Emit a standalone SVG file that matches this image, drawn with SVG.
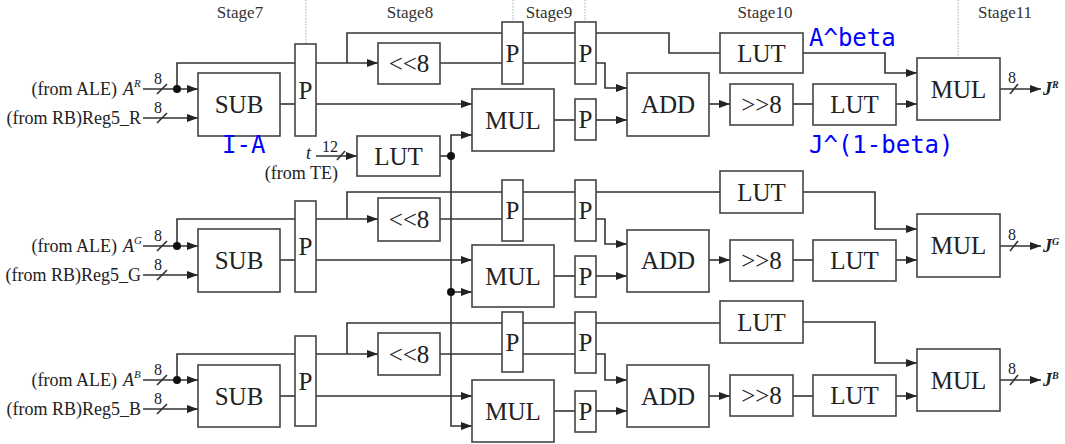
<svg xmlns="http://www.w3.org/2000/svg" width="1065" height="444" viewBox="0 0 1065 444">
<defs>
<marker id="ah" markerUnits="userSpaceOnUse" markerWidth="12" markerHeight="10" refX="11" refY="4" orient="auto">
<path d="M0,0 L11,4 L0,8 z" fill="#222"/>
</marker>
<style>
.b{fill:#fff;stroke:#444;stroke-width:1.6}
.t{font-family:"Liberation Serif","Times New Roman",serif;font-size:25px;fill:#222;text-anchor:middle}
.l{font-family:"Liberation Serif","Times New Roman",serif;font-size:18px;fill:#222}
.s{font-family:"Liberation Serif","Times New Roman",serif;font-size:17px;fill:#333;text-anchor:middle}
.n{font-family:"Liberation Serif","Times New Roman",serif;font-size:16px;fill:#222;text-anchor:middle}
.w{fill:none;stroke:#333;stroke-width:1.6}
.a{marker-end:url(#ah)}
.d{fill:#111}
.g{stroke:#aaa;stroke-width:1;stroke-dasharray:1.5,1.5}
.bl{font-family:"DejaVu Sans Mono",monospace;font-size:24px;fill:#0000ff}
.i{font-style:italic}
</style>
</defs>

<g id="stages">
<line class="g" x1="306" y1="0" x2="306" y2="44"/>
<line class="g" x1="513" y1="0" x2="513" y2="22"/>
<line class="g" x1="585" y1="0" x2="585" y2="22"/>
<line class="g" x1="958" y1="0" x2="958" y2="58"/>
<text class="s" x="240" y="18">Stage7</text>
<text class="s" x="410" y="18">Stage8</text>
<text class="s" x="549" y="18">Stage9</text>
<text class="s" x="765" y="18">Stage10</text>
<text class="s" x="1005" y="18">Stage11</text>
</g>

<g id="connectors">
<!-- Row R -->
<path class="w a" d="M143,89 H198"/>
<path class="w a" d="M143,118 H198"/>
<path class="w" d="M177,89 V63 H295"/>
<path class="w" d="M280,104 H295"/>
<path class="w a" d="M316,63 H378"/>
<path class="w" d="M347,63 V33 H502"/>
<path class="w a" d="M316,104 H472"/>
<path class="w" d="M440,63 H502"/>
<path class="w" d="M523,33 H575 M523,63 H575"/>
<path class="w a" d="M596,63 H605 V88 H627"/>
<path class="w" d="M596,33 H669 V53 H720"/>
<path class="w a" d="M803,53 H885 V73 H917"/>
<path class="w" d="M554,120 H575"/>
<path class="w a" d="M596,120 H627"/>
<path class="w a" d="M709,104 H730"/>
<path class="w" d="M793,104 H813"/>
<path class="w a" d="M896,104 H917"/>
<path class="w a" d="M1000,89 H1041"/>
<path class="w a" d="M316,156 H357"/>
<path class="w" d="M440,156 H451"/>
<path class="w a" d="M451,156 V135 H472"/>
<path class="w a" d="M451,156 V426 H472"/>
<path class="w a" d="M451,292 H472"/>
<!-- Row G -->
<path class="w a" d="M143,246 H198"/>
<path class="w a" d="M143,275 H198"/>
<path class="w" d="M177,246 V219 H295"/>
<path class="w" d="M280,260 H295"/>
<path class="w a" d="M316,219 H378"/>
<path class="w" d="M347,219 V192 H502"/>
<path class="w a" d="M316,260 H472"/>
<path class="w" d="M440,219 H502"/>
<path class="w" d="M523,192 H575 M523,219 H575"/>
<path class="w a" d="M596,219 H605 V244 H627"/>
<path class="w" d="M596,192 H720"/>
<path class="w a" d="M803,192 H875 V229 H917"/>
<path class="w" d="M554,276 H575"/>
<path class="w a" d="M596,276 H627"/>
<path class="w a" d="M709,260 H730"/>
<path class="w" d="M793,260 H813"/>
<path class="w a" d="M896,260 H917"/>
<path class="w a" d="M1000,246 H1041"/>
<!-- Row B -->
<path class="w a" d="M143,380 H198"/>
<path class="w a" d="M143,409 H198"/>
<path class="w" d="M177,380 V354 H295"/>
<path class="w" d="M280,396 H295"/>
<path class="w a" d="M316,354 H378"/>
<path class="w" d="M347,354 V323 H502"/>
<path class="w a" d="M316,396 H472"/>
<path class="w" d="M440,354 H502"/>
<path class="w" d="M523,323 H575 M523,354 H575"/>
<path class="w a" d="M596,354 H605 V380 H627"/>
<path class="w" d="M596,323 H720"/>
<path class="w a" d="M803,322 H875 V363 H917"/>
<path class="w" d="M554,411 H575"/>
<path class="w a" d="M596,411 H627"/>
<path class="w a" d="M709,396 H730"/>
<path class="w" d="M793,396 H813"/>
<path class="w a" d="M896,396 H917"/>
<path class="w a" d="M1000,380 H1041"/>
<!-- junction dots -->
<circle class="d" cx="177" cy="89" r="4"/>
<circle class="d" cx="177" cy="246" r="4"/>
<circle class="d" cx="177" cy="380" r="4"/>
<circle class="d" cx="451" cy="156" r="4"/>
<circle class="d" cx="451" cy="292" r="4"/>
<!-- bus width slashes -->
<path class="w" d="M157,94 L167,84 M157,123 L167,113 M157,251 L167,241 M157,280 L167,270 M157,385 L167,375 M157,414 L167,404 M337,160 L345,151 M1010,94 L1018,84 M1010,251 L1018,241 M1010,385 L1018,375"/>
<text class="n" x="158" y="84">8</text>
<text class="n" x="158" y="113">8</text>
<text class="n" x="158" y="241">8</text>
<text class="n" x="158" y="270">8</text>
<text class="n" x="158" y="375">8</text>
<text class="n" x="158" y="404">8</text>
<text class="n" x="330" y="152">12</text>
<text class="n" x="1012" y="83">8</text>
<text class="n" x="1012" y="240">8</text>
<text class="n" x="1012" y="374">8</text>
</g>

<g id="R_SUB"><rect class="b" x="198" y="73" width="82" height="63"/><text class="t" x="239" y="113">SUB</text></g>
<g id="R_P1"><rect class="b" x="295" y="44" width="21" height="92"/><text class="t" x="305.5" y="99">P</text></g>
<g id="R_SHL"><rect class="b" x="378" y="43" width="62" height="41"/><text class="t" x="409" y="72">&lt;&lt;8</text></g>
<g id="R_P2"><rect class="b" x="502" y="22" width="21" height="62"/><text class="t" x="512.5" y="62">P</text></g>
<g id="R_P3"><rect class="b" x="575" y="22" width="21" height="62"/><text class="t" x="585.5" y="62">P</text></g>
<g id="R_MUL"><rect class="b" x="472" y="89" width="82" height="62"/><text class="t" x="513" y="129">MUL</text></g>
<g id="R_P4"><rect class="b" x="575" y="99" width="21" height="41"/><text class="t" x="585.5" y="128">P</text></g>
<g id="R_ADD"><rect class="b" x="627" y="73" width="82" height="63"/><text class="t" x="668" y="113">ADD</text></g>
<g id="R_LUT1"><rect class="b" x="720" y="33" width="83" height="40"/><text class="t" x="761.5" y="62">LUT</text></g>
<g id="R_SHR"><rect class="b" x="730" y="84" width="63" height="41"/><text class="t" x="761.5" y="113">&gt;&gt;8</text></g>
<g id="R_LUT2"><rect class="b" x="813" y="84" width="83" height="41"/><text class="t" x="854.5" y="113">LUT</text></g>
<g id="R_MULF"><rect class="b" x="917" y="58" width="83" height="62"/><text class="t" x="958.5" y="98">MUL</text></g>
<g id="T_LUT"><rect class="b" x="357" y="136" width="83" height="40"/><text class="t" x="398.5" y="165">LUT</text></g>

<g id="G_SUB"><rect class="b" x="198" y="229" width="82" height="63"/><text class="t" x="239" y="269">SUB</text></g>
<g id="G_P1"><rect class="b" x="295" y="201" width="21" height="91"/><text class="t" x="305.5" y="255">P</text></g>
<g id="G_SHL"><rect class="b" x="378" y="198" width="62" height="43"/><text class="t" x="409" y="228">&lt;&lt;8</text></g>
<g id="G_P2"><rect class="b" x="502" y="180" width="21" height="61"/><text class="t" x="512.5" y="219">P</text></g>
<g id="G_P3"><rect class="b" x="575" y="180" width="21" height="61"/><text class="t" x="585.5" y="219">P</text></g>
<g id="G_MUL"><rect class="b" x="472" y="245" width="82" height="62"/><text class="t" x="513" y="285">MUL</text></g>
<g id="G_P4"><rect class="b" x="575" y="256" width="21" height="41"/><text class="t" x="585.5" y="285">P</text></g>
<g id="G_ADD"><rect class="b" x="627" y="230" width="82" height="62"/><text class="t" x="668" y="269">ADD</text></g>
<g id="G_LUT1"><rect class="b" x="720" y="171" width="83" height="42"/><text class="t" x="761.5" y="201">LUT</text></g>
<g id="G_SHR"><rect class="b" x="730" y="240" width="63" height="41"/><text class="t" x="761.5" y="269">&gt;&gt;8</text></g>
<g id="G_LUT2"><rect class="b" x="813" y="240" width="83" height="41"/><text class="t" x="854.5" y="269">LUT</text></g>
<g id="G_MULF"><rect class="b" x="917" y="214" width="83" height="63"/><text class="t" x="958.5" y="254">MUL</text></g>

<g id="B_SUB"><rect class="b" x="198" y="365" width="82" height="62"/><text class="t" x="239" y="405">SUB</text></g>
<g id="B_P1"><rect class="b" x="295" y="336" width="21" height="90"/><text class="t" x="305.5" y="390">P</text></g>
<g id="B_SHL"><rect class="b" x="378" y="333" width="62" height="42"/><text class="t" x="409" y="363">&lt;&lt;8</text></g>
<g id="B_P2"><rect class="b" x="502" y="312" width="21" height="60"/><text class="t" x="512.5" y="351">P</text></g>
<g id="B_P3"><rect class="b" x="575" y="312" width="21" height="61"/><text class="t" x="585.5" y="351">P</text></g>
<g id="B_MUL"><rect class="b" x="472" y="380" width="82" height="62"/><text class="t" x="513" y="420">MUL</text></g>
<g id="B_P4"><rect class="b" x="575" y="391" width="21" height="41"/><text class="t" x="585.5" y="420">P</text></g>
<g id="B_ADD"><rect class="b" x="627" y="365" width="82" height="62"/><text class="t" x="668" y="405">ADD</text></g>
<g id="B_LUT1"><rect class="b" x="720" y="301" width="83" height="42"/><text class="t" x="761.5" y="331">LUT</text></g>
<g id="B_SHR"><rect class="b" x="730" y="375" width="63" height="41"/><text class="t" x="761.5" y="404">&gt;&gt;8</text></g>
<g id="B_LUT2"><rect class="b" x="813" y="375" width="83" height="41"/><text class="t" x="854.5" y="404">LUT</text></g>
<g id="B_MULF"><rect class="b" x="917" y="349" width="83" height="62"/><text class="t" x="958.5" y="389">MUL</text></g>

<g id="labels">
<text class="l" x="117" y="95" text-anchor="end">(from ALE)</text>
<text class="l i" x="123" y="95">A<tspan font-size="11" dy="-8">R</tspan></text>
<text class="l" x="141" y="124" text-anchor="end">(from RB)Reg5_R</text>
<text class="l" x="117" y="252" text-anchor="end">(from ALE)</text>
<text class="l i" x="123" y="252">A<tspan font-size="11" dy="-8">G</tspan></text>
<text class="l" x="141" y="281" text-anchor="end">(from RB)Reg5_G</text>
<text class="l" x="117" y="386" text-anchor="end">(from ALE)</text>
<text class="l i" x="123" y="386">A<tspan font-size="11" dy="-8">B</tspan></text>
<text class="l" x="141" y="415" text-anchor="end">(from RB)Reg5_B</text>
<text class="l i" x="306" y="159" font-size="15">t</text>
<text class="l" x="338" y="179" font-size="17" text-anchor="end">(from TE)</text>
<text class="l i" x="1043" y="95" font-weight="bold" font-size="16">J<tspan font-size="10" dy="-7">R</tspan></text>
<text class="l i" x="1043" y="252" font-weight="bold" font-size="16">J<tspan font-size="10" dy="-7">G</tspan></text>
<text class="l i" x="1043" y="386" font-weight="bold" font-size="16">J<tspan font-size="10" dy="-7">B</tspan></text>
<text class="bl" x="222" y="153">I-A</text>
<text class="bl" x="809" y="46">A^beta</text>
<text class="bl" x="809" y="153">J^(1-beta)</text>
</g>
</svg>
